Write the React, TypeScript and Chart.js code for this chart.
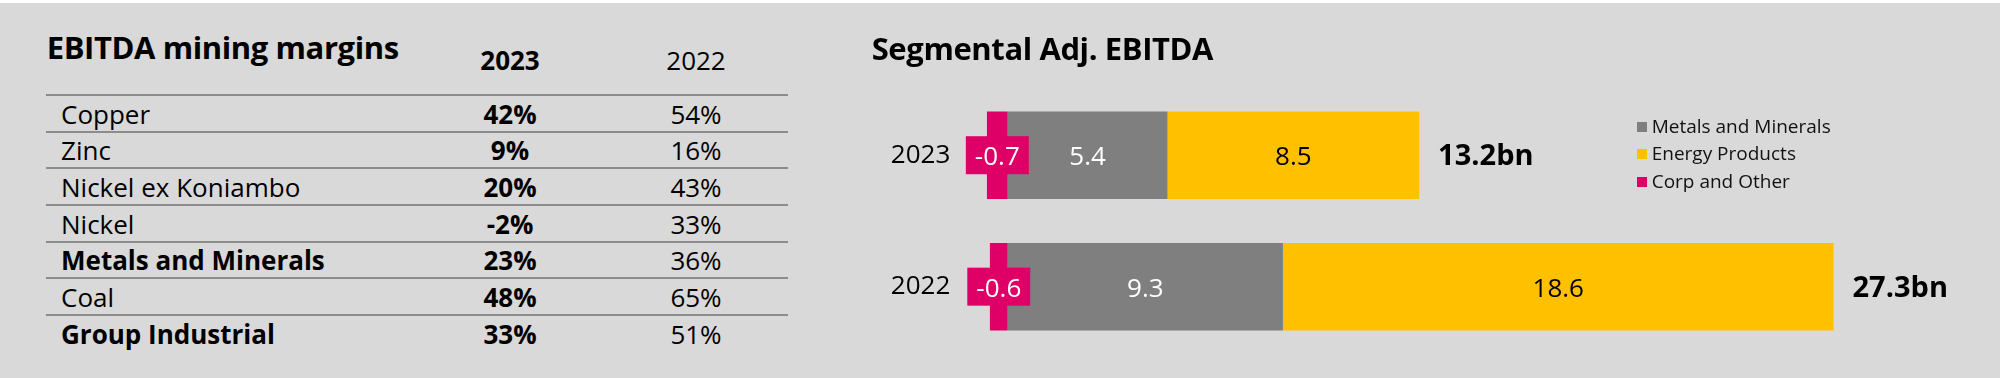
import React, { useEffect, useRef } from "react";
import { Chart, registerables } from "chart.js";

Chart.register(...registerables);

// ---- Left table data ----
const marginTitle = "EBITDA mining margins";
const marginYears = ["2023", "2022"];
const marginRows = ["Copper", "Zinc", "Nickel ex Koniambo", "Nickel", "Metals and Minerals", "Coal", "Group Industrial"];
const marginBoldRows = [false, false, false, false, true, false, true];
const margin2023 = [42, 9, 20, -2, 23, 48, 33];
const margin2022 = [54, 16, 43, 33, 36, 65, 51];

// ---- Right chart data ----
const chartTitle = "Segmental Adj. EBITDA";
const categories = ["2023", "2022"];
const metalsMinerals = [5.4, 9.3];
const energyProducts = [8.5, 18.6];
const corpOther = [-0.7, -0.6];
const seriesNames = ["Metals and Minerals", "Energy Products", "Corp and Other"];
const totalSuffix = "bn";

const GREY = "#7f7f7f";
const YELLOW = "#ffc000";
const PINK = "#de0066";
const BG = "#d9d9d9";
const LINE = "#8c8c8c";
const FONT = "'Open Sans', sans-serif";

const seriesColors = [GREY, YELLOW, PINK];

type TProps = {
  x: number;
  baseline: number;
  size: number;
  bold?: boolean;
  align?: "left" | "center";
  w?: number;
  color?: string;
  ls?: number;
  children: React.ReactNode;
};

function T({ x, baseline, size, bold, align = "left", w = 0, color = "#000", ls = 0, children }: TProps) {
  const style: React.CSSProperties = {
    position: "absolute",
    top: baseline - 0.888 * size,
    left: align === "center" ? x - w / 2 : x,
    width: align === "center" ? w : undefined,
    textAlign: align,
    fontSize: size,
    lineHeight: `${size}px`,
    fontWeight: bold ? 700 : 400,
    whiteSpace: "nowrap",
    letterSpacing: ls,
    color,
  };
  return <div style={style}>{children}</div>;
}

const labelPlugin = {
  id: "segLabels",
  afterDatasetsDraw(chart: any) {
    const ctx = chart.ctx as CanvasRenderingContext2D;
    ctx.save();
    ctx.textAlign = "center";
    ctx.textBaseline = "alphabetic";
    chart.data.datasets.forEach((ds: any, di: number) => {
      const meta = chart.getDatasetMeta(di);
      meta.data.forEach((el: any, i: number) => {
        const { x, base, y } = el.getProps(["x", "base", "y"], true);
        const v = ds.data[i] as number;
        const cx = (x + base) / 2;
        const txt = v.toFixed(1);
        ctx.font = `400 26px ${FONT}`;
        if (ds.label === seriesNames[2]) {
          const w = ctx.measureText(txt).width + 18;
          ctx.fillStyle = PINK;
          ctx.fillRect(cx - w / 2, y - 19, w, 38);
          ctx.fillStyle = "#ffffff";
        } else if (ds.label === seriesNames[0]) {
          ctx.fillStyle = "#ffffff";
        } else {
          ctx.fillStyle = "#000000";
        }
        ctx.fillText(txt, cx, y + 10);
      });
    });
    // totals after the end of the positive stack
    const lastIdx = chart.data.datasets.findIndex((d: any) => d.label === seriesNames[1]);
    const lastMeta = chart.getDatasetMeta(lastIdx);
    ctx.textAlign = "left";
    ctx.font = `700 29px ${FONT}`;
    ctx.fillStyle = "#000000";
    lastMeta.data.forEach((el: any, i: number) => {
      const { x, y } = el.getProps(["x", "y"], true);
      const total = metalsMinerals[i] + energyProducts[i] + corpOther[i];
      ctx.fillText(`${total.toFixed(1)}${totalSuffix}`, x + 19, y + 10);
    });
    ctx.restore();
  },
};

function SegmentChart() {
  const ref = useRef<HTMLCanvasElement | null>(null);
  useEffect(() => {
    if (!ref.current) return;
    const chart = new Chart(ref.current, {
      type: "bar",
      data: {
        labels: categories,
        datasets: [
          { label: seriesNames[2], data: corpOther, backgroundColor: PINK },
          { label: seriesNames[0], data: metalsMinerals, backgroundColor: GREY },
          { label: seriesNames[1], data: energyProducts, backgroundColor: YELLOW },
        ],
      },
      options: {
        indexAxis: "y",
        responsive: false,
        animation: false,
        devicePixelRatio: 1,
        layout: { padding: { top: 89.5, bottom: 23.1, left: 0, right: 104.3 } },
        datasets: { bar: { barPercentage: 0.665, categoryPercentage: 1 } },
        scales: {
          x: { type: "linear", stacked: true, min: -1.6, max: 30, display: false },
          y: {
            stacked: true,
            grid: { display: false, drawTicks: false },
            border: { display: false },
            ticks: { padding: 10, color: "#000", font: { family: FONT, size: 26 } },
            afterFit: (s: any) => {
              s.width = 160.3;
            },
          },
        },
        plugins: { legend: { display: false }, tooltip: { enabled: false } },
      } as any,
      plugins: [labelPlugin],
    });
    return () => chart.destroy();
  }, []);
  return (
    <canvas
      ref={ref}
      width={1200}
      height={378}
      style={{ position: "absolute", left: 800, top: 0, width: 1200, height: 378 }}
    />
  );
}

export default function App() {
  const rowH = 36.67;
  const firstLine = 95;
  return (
    <div
      style={{
        position: "absolute",
        left: 0,
        top: 0,
        width: 2000,
        height: 378,
        background: "#ffffff",
        fontFamily: FONT,
        overflow: "hidden",
      }}
    >
      <div style={{ position: "absolute", left: 0, top: 3, width: 2000, height: 375, background: BG }} />
      {/* Left table */}
      <T x={46.7} baseline={59.3} size={31} bold ls={-0.4}>
        {marginTitle}
      </T>
      <T x={510} baseline={70} size={26} bold align="center" w={140}>
        {marginYears[0]}
      </T>
      <T x={696} baseline={70} size={26} align="center" w={140}>
        {marginYears[1]}
      </T>
      {marginRows.map((name, i) => {
        const ly = firstLine + i * rowH;
        return (
          <React.Fragment key={name}>
            <div style={{ position: "absolute", left: 46, top: ly - 1, width: 742, height: 2, background: LINE }} />
            <T x={61} baseline={ly + 28.7} size={26} bold={marginBoldRows[i]}>
              {name}
            </T>
            <T x={510} baseline={ly + 28.7} size={26} bold align="center" w={140}>
              {`${margin2023[i]}%`}
            </T>
            <T x={696} baseline={ly + 28.7} size={26} align="center" w={140}>
              {`${margin2022[i]}%`}
            </T>
          </React.Fragment>
        );
      })}
      {/* Right chart */}
      <SegmentChart />
      <T x={871.7} baseline={61} size={31} bold ls={-0.4}>
        {chartTitle}
      </T>
      {seriesNames.map((name, i) => {
        const cy = 126.7 + i * 27.65;
        return (
          <React.Fragment key={name}>
            <div
              style={{
                position: "absolute",
                left: 1637,
                top: cy - 5,
                width: 10,
                height: 10,
                background: seriesColors[i],
              }}
            />
            <T x={1651.7} baseline={cy + 6.8} size={19} color="#111">
              {name}
            </T>
          </React.Fragment>
        );
      })}
    </div>
  );
}
